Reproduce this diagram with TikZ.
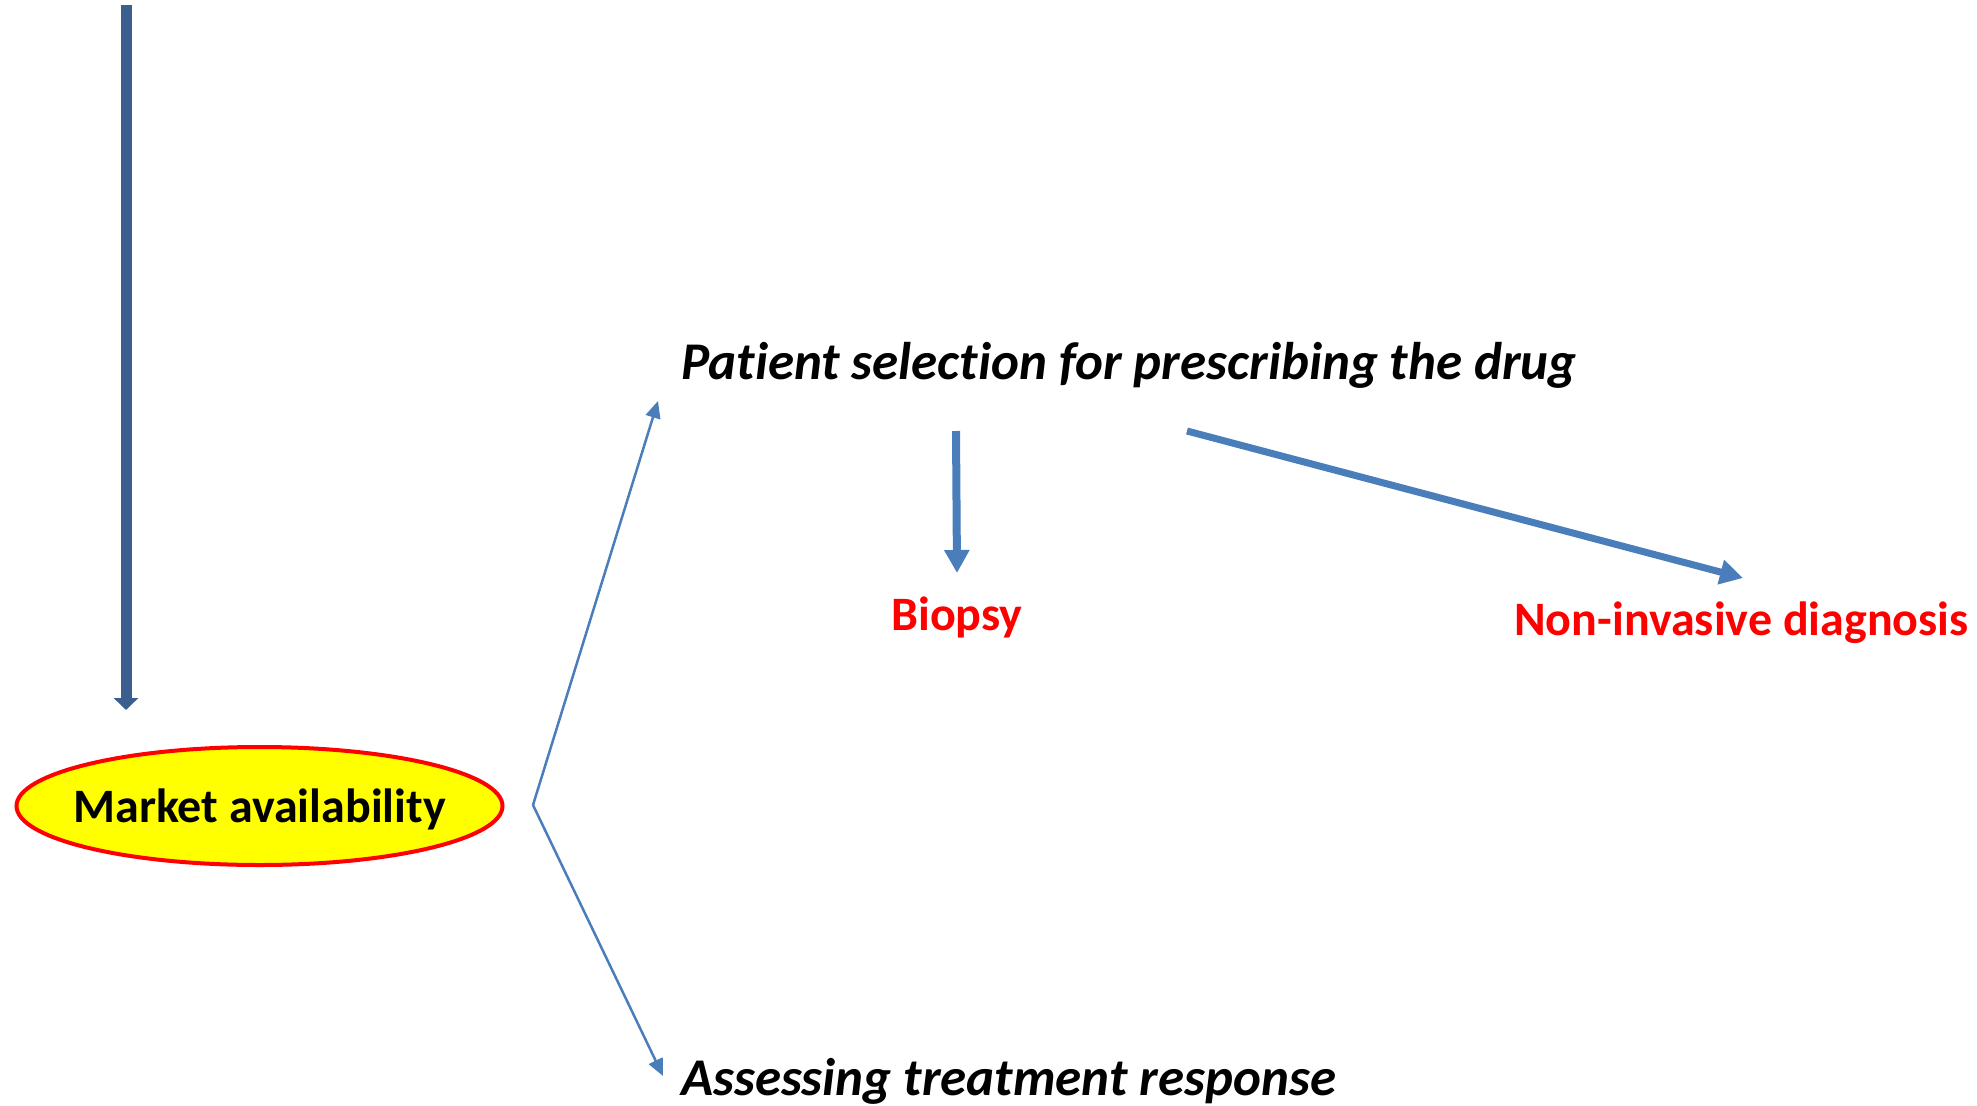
\documentclass[tikz,border=0pt]{standalone}
\usepackage{fontspec}
\setmainfont{Carlito}[Ligatures={NoCommon}]
\usetikzlibrary{arrows.meta,shapes.geometric}
\definecolor{darkblue}{HTML}{3A5F8F}
\definecolor{midblue}{HTML}{4A7EBB}
\definecolor{ellred}{HTML}{FF0000}
\definecolor{ellyellow}{HTML}{FFFF00}
\tikzset{
  bigtitle/.style={anchor=west, inner sep=0pt, font=\fontsize{53}{60}\selectfont\bfseries\itshape, text=black},
  redlabel/.style={anchor=center, inner sep=0pt, font=\fontsize{48}{54}\selectfont\bfseries, text=ellred},
  thinarrow/.style={draw=midblue, line width=2.5pt, -{Triangle[width=15pt,length=17pt]}},
  thickarrow/.style={draw=midblue, line width=8pt, -{Triangle[width=24pt,length=23pt]}},
}
\begin{document}
\begin{tikzpicture}[x=1pt,y=-1pt]
\useasboundingbox (0,0) rectangle (1977,1105);
% top vertical arrow
\coordinate (topstart) at (126,5);
\coordinate (toptip) at (126,710);
\draw[draw=darkblue, line width=11pt, -{Triangle[width=24pt,length=12pt]}] (topstart) -- (toptip);
% ellipse
\node[ellipse, draw=ellred, line width=4pt, fill=ellyellow, minimum width=486pt, minimum height=118pt, inner sep=0pt] (market) at (259.5,806) {};
\node[inner sep=0pt, font=\fontsize{48}{54}\selectfont\bfseries] (marketlabel) at (259.5,809) {Market availability};
% bracket arrows
\coordinate (vertex) at (533,805);
\coordinate (uptip) at (658,401);
\coordinate (downtip) at (663,1076);
\draw[thinarrow] (vertex) -- (uptip);
\draw[thinarrow] (vertex) -- (downtip);
% texts
\node[bigtitle] (patient) at (681,365) {Patient selection for prescribing the drug};
\node[bigtitle] (assess) at (681,1081) {Assessing treatment response};
\node[redlabel] (biopsy) at (957,617) {Biopsy};
\node[redlabel] (noninv) at (1741.5,623) {Non-invasive diagnosis};
% arrows from patient selection
\coordinate (bstart) at (956,431);
\coordinate (btip) at (957,573);
\draw[thickarrow] (bstart) -- (btip);
\coordinate (nstart) at (1187,431);
\coordinate (ntip) at (1743,578);
\draw[thickarrow, line width=7pt] (nstart) -- (ntip);
\end{tikzpicture}
\end{document}
